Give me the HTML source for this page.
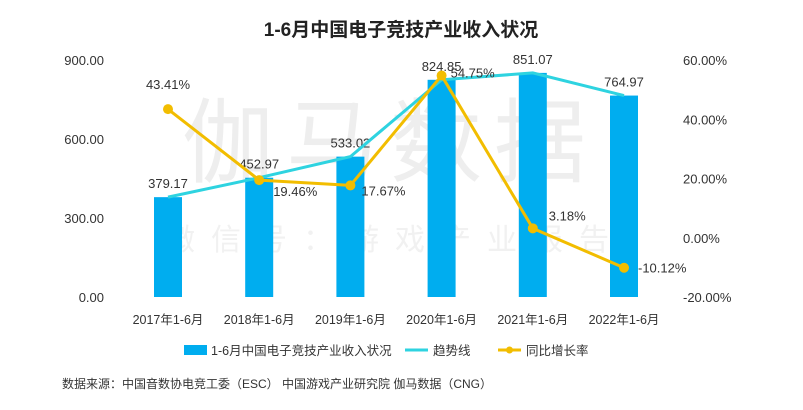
<!DOCTYPE html>
<html><head><meta charset="utf-8"><style>
body{margin:0;background:#fff;}
svg text{font-family:"Liberation Sans","Noto Sans CJK SC",sans-serif;}
</style></head><body>
<svg width="803" height="405" viewBox="0 0 803 405">
<text x="401" y="36" text-anchor="middle" font-size="19" font-weight="bold" fill="#222">1-6月中国电子竞技产业收入状况</text>
<text x="390" y="175" text-anchor="middle" font-size="92" fill="#eeeeee" letter-spacing="12">伽马数据</text>
<text x="395" y="250" text-anchor="middle" font-size="30" fill="#f1f1f1" letter-spacing="16">微信号：游戏产业报告</text>
<g id="axes"></g>
<g id="bars"></g>
<g id="lines"></g>
<g>
<rect x="184" y="345" width="23" height="10" fill="#00adef"/>
<text x="211" y="355" font-size="12.5" fill="#333">1-6月中国电子竞技产业收入状况</text>
<line x1="405" y1="350" x2="428" y2="350" stroke="#2ed3e0" stroke-width="3"/>
<text x="433" y="355" font-size="12.5" fill="#333">趋势线</text>
<line x1="498" y1="350" x2="521" y2="350" stroke="#f2bd00" stroke-width="3"/>
<circle cx="509.5" cy="350" r="3.5" fill="#f2bd00"/>
<text x="526" y="355" font-size="12.5" fill="#333">同比增长率</text>
</g>
<text x="62" y="388" font-size="12" fill="#333">数据来源：中国音数协电竞工委（ESC） 中国游戏产业研究院 伽马数据（CNG）</text>
</svg>
<script>
const categories=["2017年1-6月","2018年1-6月","2019年1-6月","2020年1-6月","2021年1-6月","2022年1-6月"];
const revenue=[379.17,452.97,533.02,824.85,851.07,764.97];
const growth=[43.41,19.46,17.67,54.75,3.18,-10.12];
const leftTicks=[0,300,600,900];
const rightTicks=[-20,0,20,40,60];
const NS="http://www.w3.org/2000/svg";
const x=i=>168+i*91.2;
const yL=v=>297-v*(237/900);
const yR=v=>297-(v+20)*(237/80);
function mk(t,a,p,txt){const e=document.createElementNS(NS,t);for(const k in a)e.setAttribute(k,a[k]);if(txt!=null)e.textContent=txt;p.appendChild(e);return e;}
const ax=document.getElementById('axes'),bg=document.getElementById('bars'),lg=document.getElementById('lines');
leftTicks.forEach(v=>{const t=mk('text',{x:104,y:yL(v)+5,'text-anchor':'end','font-size':13,fill:'#333'},ax,v.toFixed(2));

});
rightTicks.forEach(v=>{const t=mk('text',{x:683,y:yR(v)+5,'font-size':13,fill:'#333'},ax,v.toFixed(2)+'%');

});
categories.forEach((c,i)=>{const t=mk('text',{x:x(i),y:324,'text-anchor':'middle','font-size':12.5,fill:'#333'},ax,c);

});
revenue.forEach((v,i)=>{const r=mk('rect',{x:x(i)-14,y:yL(v),width:28,height:297-yL(v),fill:'#00adef'},bg);


const t=mk('text',{x:x(i),y:yL(v)-9,'text-anchor':'middle','font-size':13,fill:'#333'},bg,v.toFixed(2));

});
const tl=mk('polyline',{points:revenue.map((v,i)=>x(i)+','+yL(v)).join(' '),fill:'none',stroke:'#2ed3e0','stroke-width':3},lg);


const gl=mk('polyline',{points:growth.map((v,i)=>x(i)+','+yR(v)).join(' '),fill:'none',stroke:'#f2bd00','stroke-width':3,'stroke-linejoin':'round'},lg);


const off=[[0,-20,'middle'],[14,16,'start'],[11,10,'start'],[9,2,'start'],[16,-8,'start'],[14,5,'start']];
growth.forEach((v,i)=>{const c=mk('circle',{cx:x(i),cy:yR(v),r:5,fill:'#f2bd00'},lg);


const o=off[i];const t=mk('text',{x:x(i)+o[0],y:yR(v)+o[1],'text-anchor':o[2],'font-size':13,fill:'#333'},lg,v.toFixed(2)+'%');

});
</script>
</body></html>
